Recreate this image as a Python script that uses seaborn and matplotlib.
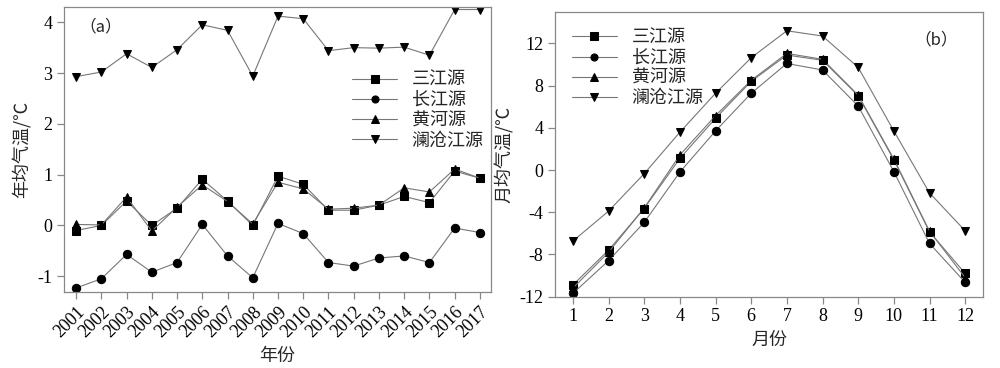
import pandas as pd
import matplotlib.pyplot as plt
import seaborn as sns

# annual mean temperature (a)
years = list(range(2001, 2018))
sanjiang_year = [-0.10, 0.00, 0.48, 0.00, 0.34, 0.91, 0.48, 0.00, 0.97, 0.81,
                 0.30, 0.30, 0.40, 0.57, 0.45, 1.07, 0.93]
changjiang_year = [-1.23, -1.05, -0.57, -0.92, -0.73, 0.02, -0.60, -1.03, 0.04, -0.16,
                   -0.73, -0.80, -0.64, -0.60, -0.73, -0.05, -0.14]
huanghe_year = [0.02, 0.01, 0.56, -0.11, 0.36, 0.80, 0.47, 0.03, 0.85, 0.72,
                0.32, 0.34, 0.40, 0.74, 0.66, 1.11, 0.93]
lancang_year = [2.93, 3.02, 3.38, 3.11, 3.46, 3.95, 3.84, 2.94, 4.12, 4.07,
                3.44, 3.50, 3.49, 3.51, 3.35, 4.25, 4.25]

# monthly mean temperature (b)
months = list(range(1, 13))
sanjiang_month = [-10.9, -7.6, -3.65, 1.1, 4.9, 8.4, 10.9, 10.4, 7.05, 0.96, -5.86, -9.8]
changjiang_month = [-11.7, -8.6, -4.97, -0.2, 3.7, 7.27, 10.1, 9.48, 6.07, -0.15, -6.96, -10.65]
huanghe_month = [-11.2, -7.8, -3.6, 1.42, 5.15, 8.5, 11.05, 10.5, 7.1, 1.05, -5.8, -10.2]
lancang_month = [-6.74, -3.9, -0.35, 3.58, 7.27, 10.64, 13.2, 12.7, 9.73, 3.7, -2.17, -5.76]

names = ['三江源', '长江源', '黄河源', '澜沧江源']
markers = ['s', 'o', '^', 'v']

sns.set_style('ticks')
plt.rcParams['font.family'] = ['Liberation Serif', 'Noto Sans CJK SC', 'DejaVu Sans']
plt.rcParams['axes.unicode_minus'] = False

fig = plt.figure(figsize=(10, 3.68), dpi=100)
ax1 = fig.add_axes([0.064, 0.2065, 0.427, 0.7745])
ax2 = fig.add_axes([0.555, 0.194, 0.428, 0.774])


def draw(ax, x, series):
    for name, vals, m in zip(names, series, markers):
        df = pd.DataFrame({'x': x, 'y': vals})
        sns.lineplot(data=df, x='x', y='y', ax=ax, color='#777777', lw=0.8,
                     marker=m, markersize=6, markerfacecolor='black',
                     markeredgecolor='black', label=name)
    for s in ax.spines.values():
        s.set_color('#888888')
        s.set_linewidth(0.9)
    ax.tick_params(colors='#888888', labelcolor='black', labelsize=13, length=5, width=0.9)


cjk = ['Noto Sans CJK SC', 'Liberation Serif']
leg_kw = dict(frameon=False, prop={'family': cjk, 'size': 13}, handlelength=2.5,
              handletextpad=0.8, labelspacing=0.12, borderpad=0.2, markerscale=0.85)

draw(ax1, years, [sanjiang_year, changjiang_year, huanghe_year, lancang_year])
ax1.set_xlim(2000.52, 2017.44)
ax1.set_ylim(-1.31, 4.3)
ax1.set_xticks(years)
ax1.set_xticklabels([str(y) for y in years], rotation=45, ha='right',
                    rotation_mode='anchor')
ax1.set_yticks([-1, 0, 1, 2, 3, 4])
ax1.set_xlabel('年份', fontsize=13, family=cjk)
ax1.set_ylabel('年均气温/℃', fontsize=13, family=cjk, labelpad=4)
ax1.text(0.035, 0.93, '（a）', transform=ax1.transAxes, fontsize=12,
         va='center', family=cjk)
ax1.legend(loc='upper left', bbox_to_anchor=(0.645, 0.82), **leg_kw)

draw(ax2, months, [sanjiang_month, changjiang_month, huanghe_month, lancang_month])
ax2.set_xlim(0.5, 12.5)
ax2.set_ylim(-12, 15)
ax2.set_xticks(months)
ax2.set_yticks([-12, -8, -4, 0, 4, 8, 12])
ax2.set_xlabel('月份', fontsize=13, family=cjk)
ax2.set_ylabel('月均气温/℃', fontsize=13, family=cjk, labelpad=4)
ax2.text(0.84, 0.9, '（b）', transform=ax2.transAxes, fontsize=12,
         va='center', family=cjk)
ax2.legend(loc='upper left', bbox_to_anchor=(0.01, 0.985), **leg_kw)

fig.savefig('out.png', dpi=100)
